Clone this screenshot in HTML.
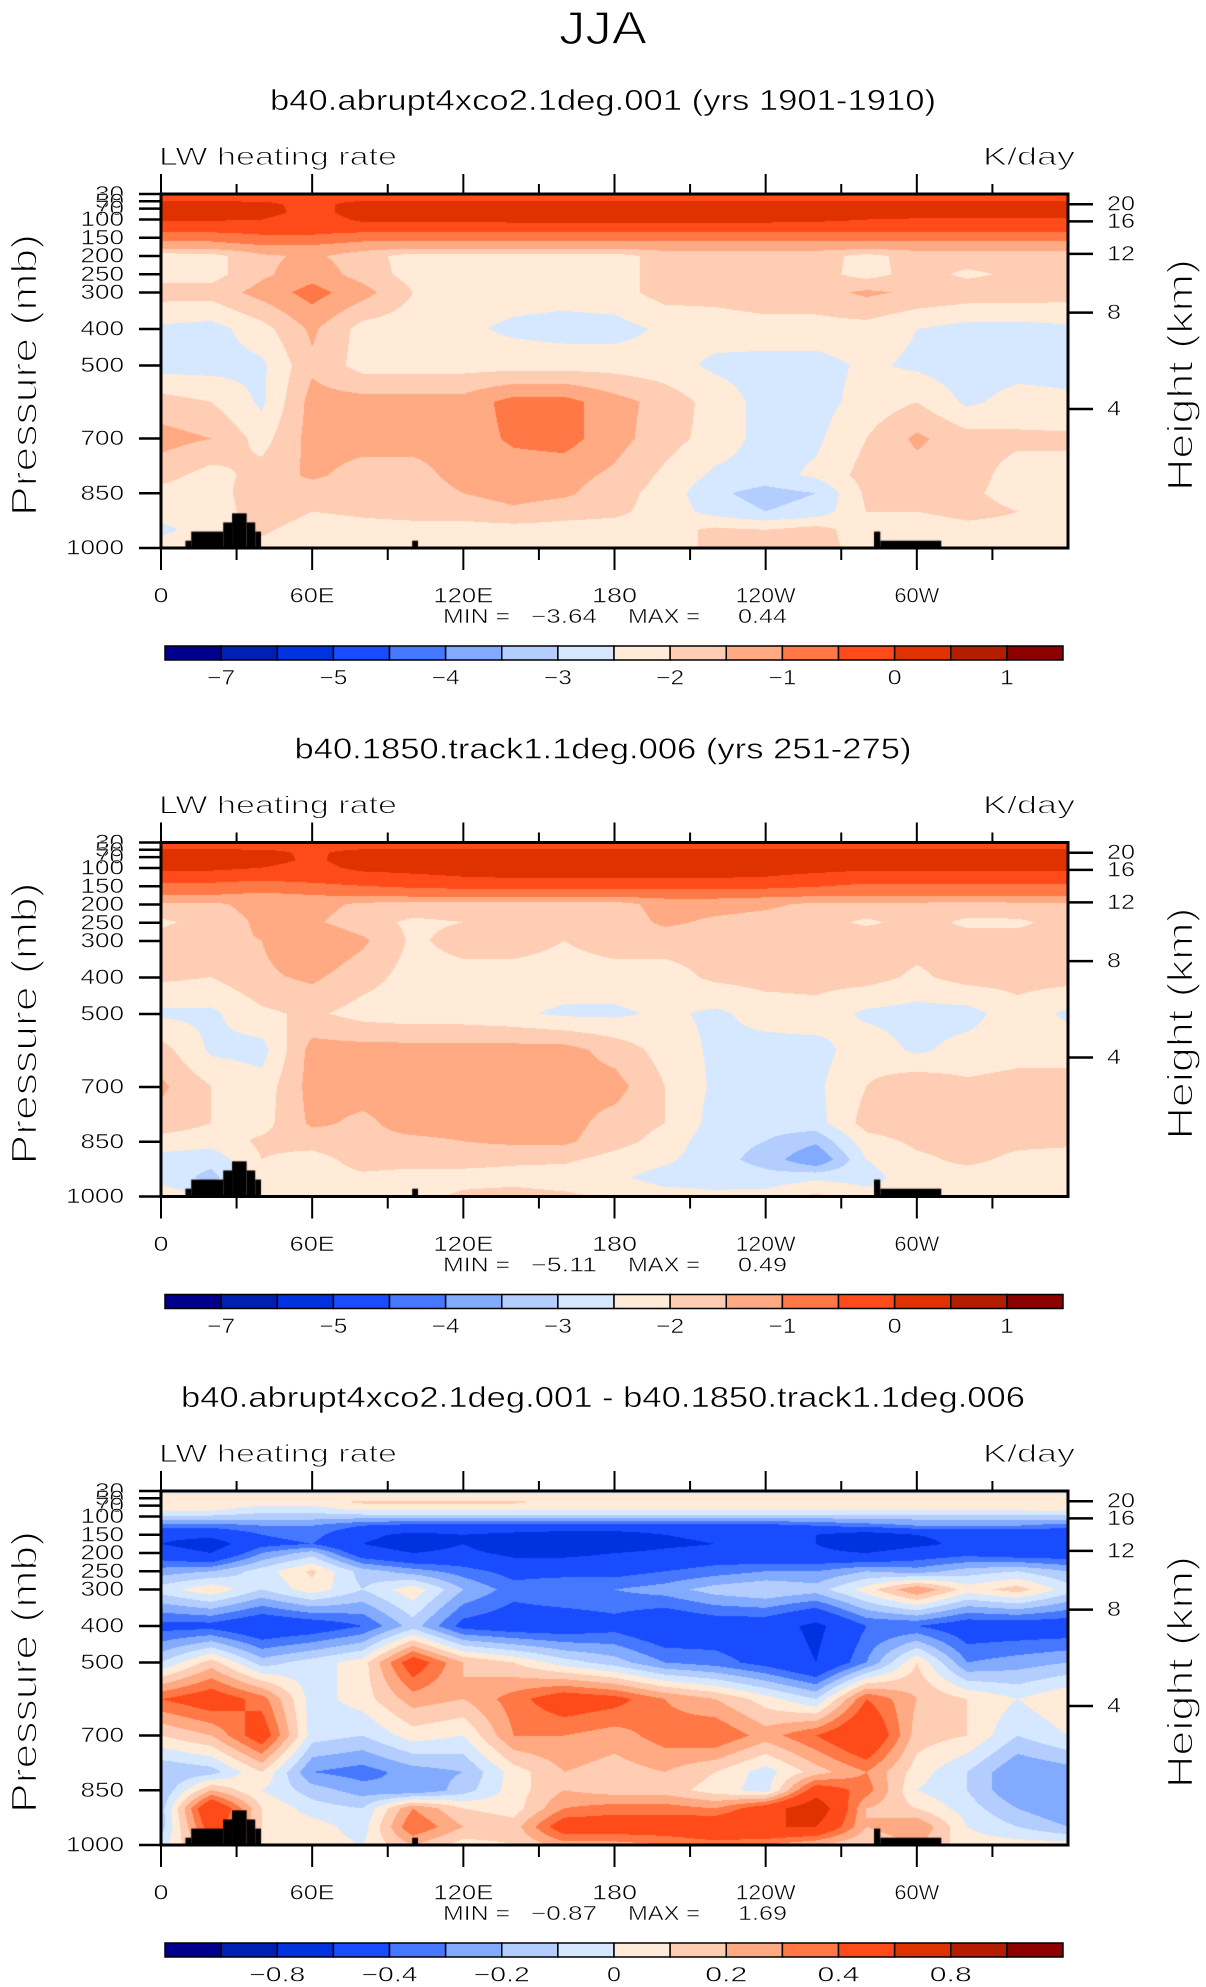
<!DOCTYPE html>
<html><head><meta charset="utf-8">
<style>
html,body{margin:0;padding:0;background:#fff;}
#root{position:relative;width:1206px;height:1987px;overflow:hidden;background:#fff;}
canvas{position:absolute;}
svg{position:absolute;left:0;top:0;}
text{font-family:"Liberation Sans",sans-serif;fill:#000;stroke:#fff;stroke-width:0.5;paint-order:normal;}
</style></head>
<body>
<div id="root">
<canvas id="c0" width="907" height="354" style="left:161px;top:194px"></canvas>
<canvas id="c1" width="907" height="354" style="left:161px;top:842px"></canvas>
<canvas id="c2" width="907" height="354" style="left:161px;top:1491px"></canvas>
<svg id="ov" width="1206" height="1987">
<text x="603" y="28" text-anchor="middle" dominant-baseline="central" font-size="46" textLength="88" lengthAdjust="spacingAndGlyphs" style="stroke-width:1.2">JJA</text>
</svg>
</div>
<script>
// ---- data ----
const levels=[30,45,60,80,100,125,150,175,200,250,300,400,500,600,700,800,850,900,950,1000];
const lons=[0,20,40,60,80,100,120,140,160,180,200,220,240,260,280,300,320,340,360];
const field1=[
[-0.2,-0.2,-0.2,-0.2,-0.2,-0.2,-0.2,-0.2,-0.2,-0.2,-0.2,-0.2,-0.2,-0.2,-0.2,-0.2,-0.2,-0.2,-0.2],
[-0.1,-0.1,-0.1,-0.1,-0.1,-0.1,-0.1,-0.1,-0.1,-0.1,-0.1,-0.1,-0.1,-0.1,-0.1,-0.1,-0.1,-0.1,-0.1],
[0.2,0.2,0.15,-0.2,0.25,0.25,0.25,0.25,0.25,0.25,0.25,0.25,0.25,0.25,0.25,0.25,0.25,0.25,0.25],
[0.25,0.25,0.2,-0.2,0.25,0.25,0.25,0.25,0.25,0.25,0.25,0.25,0.25,0.25,0.25,0.25,0.25,0.25,0.25],
[0.05,0.05,0.0,-0.3,0.1,0.1,0.1,0.15,0.2,0.2,0.2,0.2,0.15,0.1,0.0,-0.05,-0.05,-0.05,-0.05],
[-0.3,-0.3,-0.3,-0.3,-0.3,-0.3,-0.3,-0.3,-0.3,-0.3,-0.3,-0.3,-0.3,-0.3,-0.3,-0.3,-0.3,-0.3,-0.3],
[-0.8,-0.8,-0.6,-0.6,-0.8,-0.8,-0.8,-0.8,-0.8,-0.8,-0.8,-0.8,-0.8,-0.8,-0.8,-0.8,-0.8,-0.8,-0.8],
[-1.3,-1.3,-1.1,-1.1,-1.3,-1.3,-1.3,-1.3,-1.3,-1.3,-1.3,-1.3,-1.3,-1.3,-1.3,-1.3,-1.3,-1.3,-1.3],
[-2.3,-2.2,-1.6,-1.4,-1.75,-2.25,-2.25,-2.25,-2.25,-2.25,-1.75,-1.75,-1.75,-1.75,-2.2,-1.75,-1.75,-1.75,-1.75],
[-2.2,-2.2,-1.6,-1.2,-1.7,-2.2,-2.3,-2.3,-2.3,-2.2,-1.8,-1.8,-1.8,-1.8,-2.2,-1.8,-2.1,-1.9,-2.0],
[-1.8,-1.8,-1.3,-0.8,-1.3,-2.0,-2.3,-2.3,-2.3,-2.2,-1.8,-1.8,-1.7,-1.7,-1.4,-1.6,-1.7,-1.7,-1.8],
[-2.6,-2.7,-2.2,-1.4,-2.2,-2.3,-2.4,-2.6,-2.7,-2.7,-2.4,-2.3,-2.2,-2.2,-2.2,-2.5,-2.7,-2.7,-2.6],
[-2.7,-2.7,-2.6,-1.6,-2.2,-2.2,-2.2,-2.2,-2.2,-2.2,-2.3,-2.6,-2.7,-2.7,-2.4,-2.6,-2.8,-2.7,-2.7],
[-1.8,-2.0,-2.6,-1.3,-1.3,-1.3,-1.3,-0.8,-0.8,-1.3,-1.7,-2.2,-2.7,-2.7,-2.3,-2.0,-2.6,-2.3,-2.4],
[-1.3,-1.5,-2.2,-1.3,-1.3,-1.3,-1.3,-0.9,-0.8,-1.3,-1.8,-2.2,-2.7,-2.6,-2.0,-1.4,-1.8,-1.9,-1.9],
[-1.8,-2.2,-1.8,-1.4,-1.7,-1.7,-1.3,-1.3,-1.3,-1.6,-2.1,-2.6,-2.7,-2.4,-1.8,-1.7,-1.8,-2.2,-2.2],
[-2.2,-2.3,-1.6,-1.8,-1.8,-1.8,-1.5,-1.3,-1.4,-1.8,-2.2,-2.9,-3.2,-3.0,-1.9,-1.8,-1.9,-2.2,-2.0],
[-2.3,-2.4,-1.6,-2.0,-1.9,-1.8,-1.8,-1.6,-1.8,-1.9,-2.2,-2.7,-3.0,-2.8,-2.0,-2.0,-1.8,-2.0,-2.0],
[-2.6,-2.3,-1.9,-2.3,-2.2,-2.2,-2.2,-2.2,-2.2,-2.2,-2.2,-1.9,-2.0,-1.8,-2.3,-2.4,-2.2,-2.2,-2.3],
[-2.3,-2.2,-2.2,-2.2,-2.2,-2.2,-2.1,-2.2,-2.2,-2.2,-2.2,-1.9,-1.5,-1.8,-2.2,-2.2,-2.2,-2.2,-2.2]
];
const field2=[
[-0.2,-0.2,-0.2,-0.2,-0.2,-0.2,-0.2,-0.2,-0.2,-0.2,-0.2,-0.2,-0.2,-0.2,-0.2,-0.2,-0.2,-0.2,-0.2],
[-0.1,-0.1,-0.1,-0.1,-0.1,-0.1,-0.1,-0.1,-0.1,-0.1,-0.1,-0.1,-0.1,-0.1,-0.1,-0.1,-0.1,-0.1,-0.1],
[0.2,0.2,0.15,-0.1,0.2,0.2,0.2,0.2,0.2,0.2,0.2,0.2,0.2,0.2,0.2,0.2,0.2,0.2,0.2],
[0.25,0.25,0.2,-0.1,0.25,0.25,0.25,0.25,0.25,0.25,0.25,0.25,0.25,0.25,0.25,0.25,0.25,0.25,0.25],
[0.15,0.15,0.0,-0.2,0.15,0.2,0.25,0.25,0.25,0.25,0.25,0.25,0.2,0.15,0.1,0.1,0.1,0.1,0.1],
[-0.3,-0.3,-0.35,-0.3,-0.2,-0.1,0.0,0.05,0.05,0.05,0.05,0.05,0.0,-0.1,-0.2,-0.2,-0.2,-0.2,-0.2],
[-0.6,-0.6,-0.7,-0.6,-0.5,-0.4,-0.35,-0.3,-0.3,-0.3,-0.3,-0.3,-0.35,-0.45,-0.6,-0.6,-0.6,-0.6,-0.6],
[-1.0,-1.0,-1.1,-1.0,-0.9,-0.85,-0.8,-0.8,-0.8,-0.8,-0.8,-0.8,-0.85,-0.9,-0.95,-0.9,-0.9,-0.9,-0.9],
[-1.6,-1.6,-1.3,-1.3,-1.6,-1.7,-1.7,-1.7,-1.7,-1.7,-1.3,-1.3,-1.4,-1.6,-1.6,-1.6,-1.7,-1.6,-1.6],
[-2.1,-1.8,-1.4,-1.4,-1.8,-2.1,-2.0,-2.0,-1.8,-1.8,-1.4,-1.6,-1.7,-1.8,-2.1,-1.8,-2.1,-2.1,-1.8],
[-1.8,-1.6,-1.5,-1.0,-1.4,-2.1,-1.8,-1.8,-2.0,-1.8,-1.8,-1.8,-1.8,-1.7,-1.6,-1.8,-1.8,-1.8,-1.8],
[-1.9,-2.0,-1.6,-1.4,-1.8,-2.2,-2.2,-2.2,-2.2,-2.2,-2.2,-1.9,-1.8,-1.8,-1.8,-2.1,-1.8,-1.8,-1.8],
[-2.6,-2.6,-2.1,-1.9,-2.2,-2.3,-2.3,-2.4,-2.6,-2.6,-2.4,-2.6,-2.3,-2.2,-2.6,-2.7,-2.7,-2.2,-2.6],
[-1.8,-2.6,-2.7,-1.3,-1.3,-1.3,-1.3,-1.3,-1.3,-1.7,-2.2,-2.6,-2.7,-2.7,-2.2,-2.6,-2.3,-2.2,-2.2],
[-1.4,-2.0,-2.3,-1.3,-1.3,-1.3,-1.3,-1.3,-1.3,-1.3,-2.0,-2.6,-2.7,-2.6,-2.0,-1.6,-1.9,-1.8,-1.8],
[-1.7,-2.0,-2.2,-1.4,-1.6,-1.3,-1.3,-1.3,-1.3,-1.7,-2.0,-2.7,-2.8,-2.7,-1.8,-1.7,-1.8,-1.8,-2.0],
[-2.2,-2.3,-1.9,-1.8,-1.6,-1.6,-1.5,-1.4,-1.4,-1.8,-2.2,-2.8,-3.0,-3.4,-2.2,-1.9,-1.8,-1.9,-1.9],
[-2.7,-2.8,-2.0,-2.2,-1.8,-1.8,-1.8,-1.9,-1.9,-2.2,-2.4,-2.8,-3.2,-4.0,-2.5,-2.1,-1.9,-2.1,-2.2],
[-2.6,-3.2,-2.0,-2.2,-2.1,-2.2,-2.2,-2.2,-2.3,-2.4,-2.7,-2.7,-2.8,-2.6,-2.7,-2.2,-2.2,-2.2,-2.3],
[-2.3,-2.4,-2.1,-2.2,-2.2,-2.2,-1.9,-1.8,-1.9,-2.1,-2.3,-2.4,-2.3,-1.9,-2.3,-2.3,-2.2,-2.2,-2.2]
];
const field3=[
[-0.05,-0.05,-0.05,-0.05,-0.05,-0.05,-0.05,-0.05,-0.05,-0.05,-0.05,-0.05,-0.05,-0.05,-0.05,-0.05,-0.05,-0.05,-0.05],
[0.03,0.03,0.03,0.03,0.03,0.03,0.03,0.03,0.03,0.03,0.03,0.03,0.03,0.03,0.03,0.03,0.03,0.03,0.03],
[0.06,0.06,0.06,0.06,0.12,0.12,0.12,0.12,0.06,0.06,0.06,0.02,0.02,0.02,0.06,0.06,0.06,0.06,0.06],
[0.03,0.03,-0.05,-0.05,0.03,0.03,0.03,0.03,0.03,0.03,0.03,0.03,0.03,0.03,0.03,0.03,0.03,0.03,0.03],
[-0.12,-0.12,-0.15,-0.15,-0.15,-0.15,-0.15,-0.15,-0.15,-0.15,-0.15,-0.15,-0.15,-0.15,-0.15,-0.15,-0.15,-0.15,-0.12],
[-0.35,-0.35,-0.3,-0.3,-0.4,-0.45,-0.45,-0.45,-0.45,-0.45,-0.45,-0.45,-0.45,-0.4,-0.35,-0.3,-0.3,-0.3,-0.35],
[-0.55,-0.55,-0.4,-0.35,-0.55,-0.65,-0.6,-0.65,-0.7,-0.7,-0.6,-0.55,-0.55,-0.6,-0.7,-0.6,-0.55,-0.55,-0.55],
[-0.6,-0.7,-0.45,-0.4,-0.6,-0.7,-0.6,-0.75,-0.75,-0.75,-0.65,-0.6,-0.6,-0.6,-0.75,-0.65,-0.55,-0.55,-0.6],
[-0.5,-0.6,-0.3,-0.15,-0.5,-0.6,-0.55,-0.65,-0.65,-0.6,-0.55,-0.5,-0.55,-0.55,-0.6,-0.5,-0.45,-0.5,-0.5],
[-0.25,-0.2,-0.05,0.12,-0.15,-0.25,-0.35,-0.45,-0.45,-0.45,-0.4,-0.35,-0.3,-0.3,-0.2,-0.25,-0.15,-0.1,-0.2],
[-0.05,0.08,-0.1,0.06,-0.1,0.07,-0.2,-0.35,-0.3,-0.3,-0.25,-0.15,-0.1,-0.15,0.05,0.3,0.05,0.15,-0.05],
[-0.45,-0.45,-0.55,-0.5,-0.4,-0.15,-0.45,-0.5,-0.5,-0.45,-0.55,-0.5,-0.5,-0.65,-0.4,-0.4,-0.5,-0.5,-0.5],
[-0.1,0.15,-0.15,-0.05,0.05,0.5,0.2,0.1,-0.05,-0.15,-0.3,-0.35,-0.45,-0.6,-0.3,0.1,-0.3,-0.25,-0.2],
[0.4,0.5,0.35,-0.05,0.05,0.25,0.2,0.35,0.5,0.45,0.3,0.2,0.05,-0.1,0.4,0.2,0.1,0.0,0.1],
[0.1,0.2,0.5,-0.05,-0.1,0.05,0.0,0.3,0.3,0.25,0.35,0.4,0.25,0.4,0.6,0.15,0.1,-0.1,0.0],
[-0.2,-0.15,0.1,-0.3,-0.35,-0.25,-0.2,0.05,0.2,0.15,0.2,0.1,-0.05,0.15,0.3,0.05,-0.1,-0.3,-0.25],
[-0.2,0.2,0.0,-0.15,-0.25,-0.3,-0.15,0.05,0.2,0.15,0.15,0.05,-0.05,0.5,0.35,0.0,-0.1,-0.3,-0.3],
[-0.15,0.6,0.1,-0.05,-0.1,0.3,0.1,0.05,0.3,0.35,0.35,0.3,0.5,0.75,0.2,0.1,-0.05,-0.2,-0.3],
[-0.15,0.5,0.1,0.05,-0.05,0.4,0.2,0.15,0.5,0.5,0.5,0.55,0.6,0.6,0.2,0.3,0.0,-0.1,-0.2],
[-0.05,0.3,0.1,0.05,0.0,0.2,0.05,0.1,0.25,0.25,0.3,0.35,0.3,0.2,0.1,0.2,0.05,0.05,0.05]
];
const bounds12=[-7,-6,-5,-4.5,-4,-3.5,-3,-2.5,-2,-1.5,-1,-0.5,0,0.5,1];
const bounds3=[-1,-0.8,-0.6,-0.4,-0.3,-0.2,-0.1,0,0.1,0.2,0.3,0.4,0.6,0.8,1];
const cbLabels12=["−7","−5","−4","−3","−2","−1","0","1"];
const cbLabels3=["−0.8","−0.4","−0.2","0","0.2","0.4","0.8"];
const topo=[[9.7,12,980],[12,24.7,955],[24.7,28.2,930],[28.2,34,905],[34,37.4,930],[37.4,39.7,955],[99.7,102,980],[283,285.5,955],[285.5,309.7,980]];
const presTicks=[30,50,70,100,150,200,250,300,400,500,700,850,1000];
const heightTicks=["20","16","12","8","4"];
const heightPres=[58,105,194,355,619];
const lonTicks=["0","60E","120E","180","120W","60W"];
const titles=["b40.abrupt4xco2.1deg.001 (yrs 1901-1910)","b40.1850.track1.1deg.006 (yrs 251-275)","b40.abrupt4xco2.1deg.001 - b40.1850.track1.1deg.006"];
const titleWidths=[666,617,844];
const mins=["−3.64","−5.11","−0.87"];
const maxs=["0.44","0.49","1.69"];
const palette=["#00008c","#0020b4","#0032e0","#1a4cff","#4678ff","#82aaff","#b4cdff","#d5e8ff","#ffebd7","#ffcdb4","#ffaa82","#ff7846","#ff4b19","#e03200","#b41e00","#8c0000"];

// ---- geometry ----
const L=161,R=1068,W=R-L,H=354;
const offs=[0,648.5,1297];
const TOP=194;
function xL(l){return L+l/360*W;}
function yP(p,off){return TOP+off+(p-30)/970*H;}
function hex(c){return [parseInt(c.slice(1,3),16),parseInt(c.slice(3,5),16),parseInt(c.slice(5,7),16)];}
const rgb=palette.map(hex);
function interp(field,lon,p){
  let j=Math.min(Math.floor(lon/20),17); let fx=(lon-lons[j])/20;
  let i=0; while(i<levels.length-2 && p>levels[i+1]) i++;
  let fy=(p-levels[i])/(levels[i+1]-levels[i]);
  const a=field[i][j],b=field[i][j+1],c=field[i+1][j],d=field[i+1][j+1];
  return (a*(1-fx)+b*fx)*(1-fy)+(c*(1-fx)+d*fx)*fy;
}
function band(v,bnds){let k=0;for(const b of bnds){if(v>=b)k++;}return k;}
function drawField(id,field,bnds){
  const cv=document.getElementById(id),ctx=cv.getContext('2d');
  const img=ctx.createImageData(W,H);
  for(let y=0;y<H;y++){const p=30+(y+0.5)/H*970;
    for(let x=0;x<W;x++){const lon=(x+0.5)/W*360;
      const c=rgb[band(interp(field,lon,p),bnds)];const o=(y*W+x)*4;
      img.data[o]=c[0];img.data[o+1]=c[1];img.data[o+2]=c[2];img.data[o+3]=255;}}
  ctx.putImageData(img,0,0);
  ctx.fillStyle="#000";
  for(const t of topo){const x0=t[0]/360*W,x1=t[1]/360*W,y0=(t[2]-30)/970*H;ctx.fillRect(x0,y0,x1-x0,H-y0);}
}
drawField('c0',field1,bounds12);
drawField('c1',field2,bounds12);
drawField('c2',field3,bounds3);

// ---- svg overlay ----
const NS="http://www.w3.org/2000/svg";
const svg=document.getElementById('ov');
function el(tag,attrs,txt){const e=document.createElementNS(NS,tag);for(const k in attrs)e.setAttribute(k,attrs[k]);if(txt!==undefined)e.textContent=txt;svg.appendChild(e);return e;}
for(let k=0;k<3;k++){
  const off=offs[k];const top=TOP+off,bot=top+H;
  let e;
  e=el('text',{x:603,y:101+off,'text-anchor':'middle','dominant-baseline':'central','font-size':29,textLength:titleWidths[k],lengthAdjust:'spacingAndGlyphs'},titles[k]);
  
  
  e=el('text',{x:159,y:157+off,'dominant-baseline':'central','font-size':25,textLength:238,lengthAdjust:'spacingAndGlyphs',style:'stroke-width:0.9'},"LW heating rate");
  
  
  e=el('text',{x:1075,y:157+off,'text-anchor':'end','dominant-baseline':'central','font-size':25,textLength:92,lengthAdjust:'spacingAndGlyphs',style:'stroke-width:0.9'},"K/day");
  
  
  e=el('text',{x:0,y:0,'text-anchor':'middle','dominant-baseline':'central','font-size':36,textLength:282,lengthAdjust:'spacingAndGlyphs',style:'stroke-width:1.4',transform:`translate(24,${375+off}) rotate(-90)`},"Pressure (mb)");
  
  
  e=el('text',{x:0,y:0,'text-anchor':'middle','dominant-baseline':'central','font-size':36,textLength:232,lengthAdjust:'spacingAndGlyphs',style:'stroke-width:1.4',transform:`translate(1180,${375+off}) rotate(-90)`},"Height (km)");
  
  
  for(const p of presTicks){const y=yP(p,off);
    e=el('line',{x1:139,x2:161,y1:y,y2:y,stroke:'#000','stroke-width':2.5});
    
    
    const s=String(p);
    e=el('text',{x:124,y:y,'text-anchor':'end','dominant-baseline':'central','font-size':21,textLength:s.length*14.5,lengthAdjust:'spacingAndGlyphs'},s);
    
    }
  for(let h=0;h<heightTicks.length;h++){const y=yP(heightPres[h],off);
    e=el('line',{x1:1068,x2:1093,y1:y,y2:y,stroke:'#000','stroke-width':2.5});
    
    
    e=el('text',{x:1107,y:y,'dominant-baseline':'central','font-size':21,textLength:heightTicks[h].length*14,lengthAdjust:'spacingAndGlyphs'},heightTicks[h]);
    
    }
  for(let l=0;l<=330;l+=30){const x=xL(l);const major=(l%60===0);
    e=el('line',{x1:x,x2:x,y1:top,y2:top-(major?20:10),stroke:'#000','stroke-width':2});
    
    
    e=el('line',{x1:x,x2:x,y1:bot,y2:bot+(major?22:12),stroke:'#000','stroke-width':2});
    
    
    if(major){const s=lonTicks[l/60];
      e=el('text',{x:x,y:596+off,'text-anchor':'middle','dominant-baseline':'central','font-size':21,textLength:s.length*15,lengthAdjust:'spacingAndGlyphs'},s);
      
      }}
  e=el('rect',{x:L,y:top,width:W,height:H,fill:'none',stroke:'#000','stroke-width':3});
  
  
  const mm=[["MIN =",443,67],[mins[k],531,66],["MAX =",628,72],[maxs[k],738,49]];
  for(const m of mm){e=el('text',{x:m[1],y:617+off,'dominant-baseline':'central','font-size':20,textLength:m[2],lengthAdjust:'spacingAndGlyphs'},m[0]);
    
    }
  const cbL=165,cbR=1063,cbw=(cbR-cbL)/16,cbT=646+off,cbH=14;
  for(let b=0;b<16;b++){
    e=el('rect',{x:cbL+b*cbw,y:cbT,width:cbw,height:cbH,fill:palette[b],stroke:'#000','stroke-width':1.5});
    
    }
  const labs=k<2?cbLabels12:cbLabels3;
  for(let i=0;i<labs.length;i++){const bi=k<2?(1+2*i):(2+2*i);
    e=el('text',{x:cbL+bi*cbw,y:678+off,'text-anchor':'middle','dominant-baseline':'central','font-size':21,textLength:labs[i].length*14,lengthAdjust:'spacingAndGlyphs'},labs[i]);
    
    }
}
</script>
</body></html>
